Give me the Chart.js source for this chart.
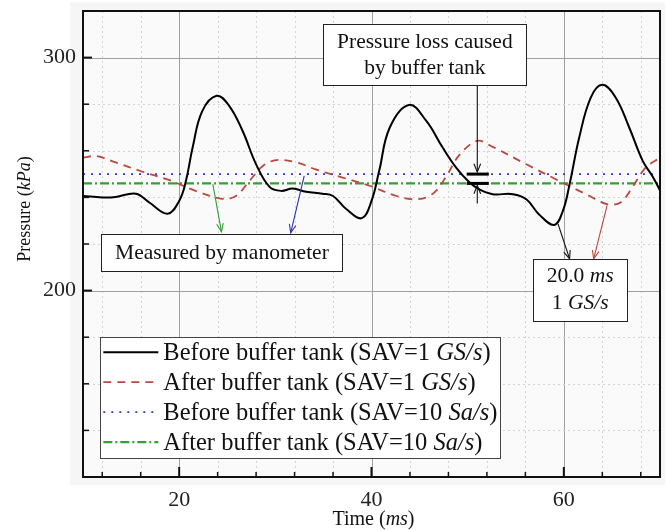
<!DOCTYPE html>
<html>
<head>
<meta charset="utf-8">
<script src="https://cdn.jsdelivr.net/npm/chart.js@4.4.1/dist/chart.umd.min.js"></script>
<style>
  html, body { margin: 0; padding: 0; background: #fff; }
  #wrap { width: 668px; height: 530px; }
</style>
</head>
<body>
<div id="wrap"><canvas id="c"></canvas></div>
<script>
// Data (time in ms, pressure in kPa)
const beforeT = [10, 12, 13.4, 15.5, 16.9, 18.8, 20, 20.7, 21.4, 22.4, 23.9, 25.2, 26.6, 28, 29.4, 30.6, 31.8, 33.2, 34.9, 36, 37.4, 39, 40, 40.8, 41.9, 43.9, 45.7, 47.4, 48.8, 50.2, 51.2, 52.6, 54.7, 56.1, 57.4, 59, 59.9, 60.6, 61.6, 62.8, 64, 65.4, 66.8, 68.2, 69.2, 70];
const beforeP = [240.6, 240, 240.2, 241.6, 237.8, 233, 238.5, 247, 261.4, 277, 283.6, 279.3, 268.5, 254.2, 244.5, 242.8, 243.8, 242.4, 241.6, 240.6, 234.9, 231.1, 238.5, 251.4, 270, 279.7, 272.8, 261.4, 252.8, 246.4, 243.5, 241.4, 241.4, 239.2, 232.8, 228.2, 234.2, 245.7, 265.7, 282.8, 288.3, 282.8, 270, 255.7, 249.2, 243];
const afterT = [10, 11.4, 13.4, 16.2, 19, 21.7, 24.5, 25.9, 27.3, 28.7, 30.1, 32.2, 34.2, 37, 39.8, 42.6, 44.8, 46.4, 47.8, 49.1, 51, 52.6, 56.1, 59.5, 62.3, 64.5, 65.9, 67.1, 68.5, 70];
const afterP = [257.1, 257.7, 255, 251, 247.4, 242.8, 239.4, 240.6, 247, 253.5, 256, 255, 252, 248.5, 245, 240.6, 239.2, 241.6, 249.2, 258, 264.3, 261.7, 254.2, 247.1, 241.4, 237.1, 237.8, 244.2, 252.8, 257];
const slowT = [10, 70];
const slowBefore = [250, 250];
const slowAfter = [246, 246];

const xLabels = [20, 40, 60];
const xMinor = [12, 16, 20, 24, 28, 32, 36, 40, 44, 48, 52, 56, 60, 64, 68];
const yLabels = [200, 300];
const yMinor = [140, 160, 180, 200, 220, 240, 260, 280, 300];

const seriesNames = [
  [["Before buffer tank (SAV=1 ", 0], ["GS/s", 1], [")", 0]],
  [["After buffer tank (SAV=1 ", 0], ["GS/s", 1], [")", 0]],
  [["Before buffer tank (SAV=10 ", 0], ["Sa/s", 1], [")", 0]],
  [["After buffer tank (SAV=10 ", 0], ["Sa/s", 1], [")", 0]]
];
const seriesColors = ["#000000", "#b84a40", "#3a3ac0", "#35a035"];
const seriesDash = [[], [8, 6], [2, 6], [9, 3, 2, 3]];
const seriesWidth = [2, 1.8, 1.8, 2.2];

const FONT = "'Liberation Serif', 'DejaVu Serif', serif";

function pts(xs, ys) { return xs.map((x, i) => ({ x: x, y: ys[i] })); }

function richWidth(ctx, parts, size) {
  let w = 0;
  parts.forEach(p => { ctx.font = (p[1] ? "italic " : "") + size + "px " + FONT; w += ctx.measureText(p[0]).width; });
  return w;
}
function drawRich(ctx, parts, x, y, size, align) {
  let w = richWidth(ctx, parts, size);
  let cx = align === "center" ? x - w / 2 : x;
  ctx.textBaseline = "middle";
  ctx.textAlign = "left";
  ctx.fillStyle = "#111";
  parts.forEach(p => {
    ctx.font = (p[1] ? "italic " : "") + size + "px " + FONT;
    ctx.fillText(p[0], cx, y);
    cx += ctx.measureText(p[0]).width;
  });
}
function arrow(ctx, x1, y1, x2, y2, color) {
  ctx.save();
  ctx.strokeStyle = color; ctx.lineWidth = 1.1; ctx.setLineDash([]);
  ctx.beginPath(); ctx.moveTo(x1, y1); ctx.lineTo(x2, y2); ctx.stroke();
  const a = Math.atan2(y2 - y1, x2 - x1), L = 9, s = 0.38;
  ctx.beginPath();
  ctx.moveTo(x2 - L * Math.cos(a - s), y2 - L * Math.sin(a - s));
  ctx.lineTo(x2, y2);
  ctx.lineTo(x2 - L * Math.cos(a + s), y2 - L * Math.sin(a + s));
  ctx.stroke();
  ctx.restore();
}
function box(ctx, x1, y1, x2, y2, border) {
  ctx.save();
  ctx.fillStyle = "#fff";
  ctx.fillRect(x1, y1, x2 - x1, y2 - y1);
  ctx.strokeStyle = border || "#222"; ctx.lineWidth = 1;
  ctx.strokeRect(Math.round(x1) + 0.5, Math.round(y1) + 0.5, Math.round(x2 - x1), Math.round(y2 - y1));
  ctx.restore();
}

const decor = {
  id: "decor",
  beforeDraw(chart) {
    const ctx = chart.ctx, a = chart.chartArea;
    ctx.save();
    ctx.fillStyle = "#f6f6f6";
    ctx.fillRect(70, 2, 595, 483);
    ctx.fillStyle = "#fafafa";
    ctx.fillRect(a.left, a.top, a.right - a.left, a.bottom - a.top);
    ctx.restore();
  },
  beforeDatasetsDraw(chart) {
    const ctx = chart.ctx, a = chart.chartArea, sx = chart.scales.x, sy = chart.scales.y;
    ctx.save();
    ctx.lineWidth = 1;
    xMinor.forEach(v => {
      const major = xLabels.includes(v);
      const p = Math.round(sx.getPixelForValue(v)) + 0.5;
      ctx.strokeStyle = major ? "#a0a0a0" : "#d4d4d4";
      ctx.setLineDash(major ? [] : [2, 3]);
      ctx.beginPath(); ctx.moveTo(p, a.top); ctx.lineTo(p, a.bottom); ctx.stroke();
    });
    yMinor.forEach(v => {
      const major = yLabels.includes(v);
      const p = Math.round(sy.getPixelForValue(v)) + 0.5;
      ctx.strokeStyle = major ? "#a0a0a0" : "#d4d4d4";
      ctx.setLineDash(major ? [] : [2, 3]);
      ctx.beginPath(); ctx.moveTo(a.left, p); ctx.lineTo(a.right, p); ctx.stroke();
    });
    ctx.restore();
  },
  afterDatasetsDraw(chart) {
    const ctx = chart.ctx, a = chart.chartArea, sx = chart.scales.x, sy = chart.scales.y;
    const X = v => sx.getPixelForValue(v), Y = v => sy.getPixelForValue(v);
    ctx.save();
    // frame
    ctx.strokeStyle = "#111"; ctx.lineWidth = 2; ctx.setLineDash([]);
    ctx.strokeRect(a.left, a.top, a.right - a.left, a.bottom - a.top);
    // inward ticks
    xMinor.forEach(v => {
      const major = xLabels.includes(v), p = X(v);
      ctx.lineWidth = major ? 2 : 1.5;
      ctx.beginPath(); ctx.moveTo(p, a.bottom); ctx.lineTo(p, a.bottom - (major ? 10 : 5)); ctx.stroke();
    });
    yMinor.forEach(v => {
      const major = yLabels.includes(v), p = Y(v);
      ctx.lineWidth = major ? 2 : 1.5;
      ctx.beginPath(); ctx.moveTo(a.left, p); ctx.lineTo(a.left + (major ? 9 : 6), p); ctx.stroke();
    });

    // arrows to "Measured by manometer"
    arrow(ctx, X(23.5), Y(245.7), X(24.4), Y(225.2), "#2f9e3a");
    arrow(ctx, X(33.0), Y(249.2), X(31.6), Y(224.8), "#3030b0");
    box(ctx, X(11.9), Y(224.3), X(37.0), Y(208.5));
    drawRich(ctx, [["Measured by manometer", 0]], (X(11.9) + X(37.0)) / 2, (Y(224.3) + Y(208.5)) / 2 + 1, 21.5, "center");

    // pressure loss marker
    ctx.strokeStyle = "#000"; ctx.lineWidth = 3;
    [slowBefore[0], slowAfter[0]].forEach(v => {
      ctx.beginPath(); ctx.moveTo(X(49.9), Y(v)); ctx.lineTo(X(52.2), Y(v)); ctx.stroke();
    });
    arrow(ctx, X(51.0), Y(288.3), X(51.0), Y(slowBefore[0]) - 2, "#111");
    arrow(ctx, X(51.0), Y(237.4), X(51.0), Y(slowAfter[0]) + 2, "#111");
    box(ctx, X(35.0), Y(314.5), X(56.1), Y(288.3));
    drawRich(ctx, [["Pressure loss caused", 0]], (X(35.0) + X(56.1)) / 2, Y(314.5) + 19, 21.5, "center");
    drawRich(ctx, [["by buffer tank", 0]], (X(35.0) + X(56.1)) / 2, Y(314.5) + 45, 21.5, "center");

    // time base note
    arrow(ctx, X(59.4), Y(228.6), X(60.6), Y(213.6), "#111");
    arrow(ctx, X(64.5), Y(236.6), X(63.1), Y(213.6), "#c0463c");
    box(ctx, X(56.8), Y(213.6), X(66.6), Y(187));
    drawRich(ctx, [["20.0 ", 0], ["ms", 1]], (X(56.8) + X(66.6)) / 2, Y(213.6) + 17, 21.5, "center");
    drawRich(ctx, [["1 ", 0], ["GS/s", 1]], (X(56.8) + X(66.6)) / 2, Y(213.6) + 44, 21.5, "center");

    // legend
    const lx1 = X(11.8), ly1 = Y(180), lx2 = X(53.4), ly2 = Y(128);
    box(ctx, lx1, ly1, lx2, ly2, "#444");
    seriesNames.forEach((name, i) => {
      const yy = ly1 + 15 + i * 30;
      ctx.save();
      ctx.strokeStyle = seriesColors[i]; ctx.lineWidth = seriesWidth[i]; ctx.setLineDash(seriesDash[i]);
      ctx.beginPath(); ctx.moveTo(lx1 + 3, yy); ctx.lineTo(lx1 + 58, yy); ctx.stroke();
      ctx.restore();
      drawRich(ctx, name, lx1 + 63, yy + 1, 24.5, "left");
    });

    // axis titles
    drawRich(ctx, [["Time (", 0], ["ms", 1], [")", 0]], (a.left + a.right) / 2 + 2, 520, 20, "center");
    ctx.save();
    ctx.translate(25, 209);
    ctx.rotate(-Math.PI / 2);
    drawRich(ctx, [["Pressure (", 0], ["kPa", 1], [")", 0]], 0, 0, 18, "center");
    ctx.restore();
    ctx.restore();
  }
};

function noPad(s) { s.paddingTop = 0; s.paddingBottom = 0; s.paddingLeft = 0; s.paddingRight = 0; }

new Chart(document.getElementById("c"), {
  type: "line",
  data: {
    datasets: [
      { data: pts(beforeT, beforeP), borderColor: seriesColors[0], borderWidth: seriesWidth[0], borderDash: seriesDash[0], tension: 0.4 },
      { data: pts(afterT, afterP), borderColor: seriesColors[1], borderWidth: seriesWidth[1], borderDash: seriesDash[1], tension: 0.35 },
      { data: pts(slowT, slowBefore), borderColor: seriesColors[2], borderWidth: seriesWidth[2], borderDash: seriesDash[2] },
      { data: pts(slowT, slowAfter), borderColor: seriesColors[3], borderWidth: seriesWidth[3], borderDash: seriesDash[3] }
    ]
  },
  options: {
    responsive: true,
    maintainAspectRatio: false,
    animation: false,
    devicePixelRatio: 1,
    layout: { padding: { left: 0, top: 11, right: 8, bottom: 0 } },
    elements: { point: { radius: 0 } },
    plugins: { legend: { display: false }, tooltip: { enabled: false } },
    scales: {
      x: {
        type: "linear", min: 10, max: 70,
        grid: { display: false, drawTicks: false },
        border: { display: false },
        afterBuildTicks: s => { s.ticks = xLabels.map(v => ({ value: v })); },
        afterFit: s => { s.height = 53; noPad(s); },
        ticks: { padding: 10, color: "#222", font: { family: FONT, size: 22 } }
      },
      y: {
        type: "linear", min: 120, max: 320,
        grid: { display: false, drawTicks: false },
        border: { display: false },
        afterBuildTicks: s => { s.ticks = yLabels.map(v => ({ value: v })); },
        afterFit: s => { s.width = 83; noPad(s); },
        ticks: { padding: 7, color: "#222", font: { family: FONT, size: 22 } }
      }
    }
  },
  plugins: [decor]
});
</script>
</body>
</html>
